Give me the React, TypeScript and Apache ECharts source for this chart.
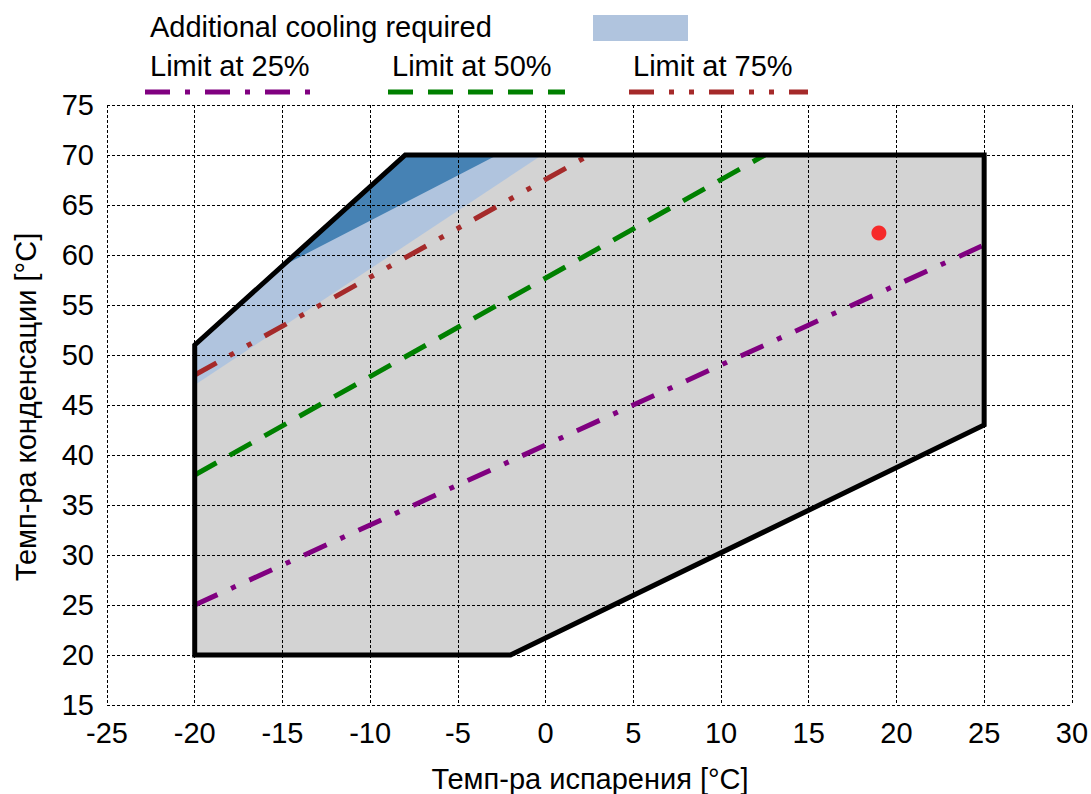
import React, { useEffect, useRef } from "react";
import * as echarts from "echarts";

// Axes
const xTicks = { min: -25, max: 30, interval: 5 };
const yTicks = { min: 15, max: 75, interval: 5 };

// Operating envelope (evap temp, cond temp)
const envelopeX = [-20, -2, 25, 25, -8, -20];
const envelopeY = [20, 20, 43, 70, 70, 51];

// Additional cooling required (light region)
const coolingX = [-20, -20, -8, -0.2];
const coolingY = [47, 51, 70, 70];

// Additional cooling (dark region)
const coolingDarkX = [-15, -8, -2.75];
const coolingDarkY = [58.9, 70, 70];

// Limit lines
const limit25X = [-20, 25];
const limit25Y = [25, 61];
const limit50X = [-20, 12.5];
const limit50Y = [38, 70];
const limit75X = [-20, 2.5];
const limit75Y = [48, 70];

// Operating point
const pointX = [19];
const pointY = [62.2];

const legendLabels = ["Additional cooling required", "Limit at 25%", "Limit at 50%", "Limit at 75%"];
const xTitle = "Темп-ра испарения [°C]";
const yTitle = "Темп-ра конденсации [°C]";

const FONT = '"Liberation Sans", Arial, sans-serif';
const FS = 29;
const DASH25 = [25, 15, 5, 15];
const DASH50 = [25, 15];
const DASH75 = [25, 15, 5, 15, 5, 15];

function zip(xs: number[], ys: number[]) {
  return xs.map((x, i) => [x, ys[i]]);
}

function polygonSeries(xs: number[], ys: number[], style: any, z: number) {
  return {
    type: "custom",
    z,
    silent: true,
    data: [[xs[0], ys[0]]],
    renderItem: (params: any, api: any) => {
      const pts = xs.map((x, i) => api.coord([x, ys[i]]));
      return { type: "polygon", shape: { points: pts }, style };
    },
  };
}

function lineSeries(xs: number[], ys: number[], color: string, dash: number[]) {
  return {
    type: "line",
    z: 4,
    silent: true,
    symbol: "none",
    data: zip(xs, ys),
    lineStyle: { color, width: 5, type: dash, cap: "butt" },
  };
}

export default function App() {
  const ref = useRef<HTMLDivElement>(null);
  useEffect(() => {
    const chart = echarts.init(ref.current!, null, { renderer: "svg" });
    const gridLine = { show: true, lineStyle: { color: "#000", width: 1, type: [3, 2] } };
    const textStyle = (text: string, extra: any = {}) => ({ text, fontSize: FS, fontFamily: FONT, fill: "#000", verticalAlign: "middle", ...extra });
    chart.setOption({
      animation: false,
      backgroundColor: "#fff",
      grid: { left: 107, right: 16, top: 105, bottom: 89, containLabel: false },
      xAxis: {
        type: "value",
        z: 3,
        min: xTicks.min,
        max: xTicks.max,
        interval: xTicks.interval,
        axisLine: { show: false },
        axisTick: { show: false },
        splitLine: gridLine,
        axisLabel: { color: "#000", fontSize: FS, fontFamily: FONT, margin: 13 },
      },
      yAxis: {
        type: "value",
        z: 3,
        min: yTicks.min,
        max: yTicks.max,
        interval: yTicks.interval,
        axisLine: { show: false },
        axisTick: { show: false },
        splitLine: gridLine,
        axisLabel: { color: "#000", fontSize: FS, fontFamily: FONT, margin: 13 },
      },
      series: [
        polygonSeries(envelopeX, envelopeY, { fill: "#d3d3d3" }, 1),
        polygonSeries(coolingX, coolingY, { fill: "#b0c4de" }, 1),
        polygonSeries(coolingDarkX, coolingDarkY, { fill: "#4682b4" }, 1),
        lineSeries(limit25X, limit25Y, "#800080", DASH25),
        lineSeries(limit50X, limit50Y, "#008000", DASH50),
        lineSeries(limit75X, limit75Y, "#a52a2a", DASH75),
        polygonSeries(envelopeX, envelopeY, { fill: "none", stroke: "#000", lineWidth: 5, lineJoin: "miter" }, 5),
        {
          type: "scatter",
          z: 6,
          silent: true,
          symbol: "circle",
          symbolSize: 15,
          itemStyle: { color: "#ff0000" },
          data: zip(pointX, pointY),
        },
      ],
      graphic: [
        { type: "text", x: 150, y: 27, style: textStyle(legendLabels[0]) },
        { type: "rect", shape: { x: 593, y: 15, width: 95, height: 26 }, style: { fill: "#b0c4de" } },
        { type: "text", x: 150, y: 66, style: textStyle(legendLabels[1]) },
        { type: "text", x: 392, y: 66, style: textStyle(legendLabels[2]) },
        { type: "text", x: 633, y: 66, style: textStyle(legendLabels[3]) },
        { type: "line", shape: { x1: 145, y1: 92, x2: 313, y2: 92 }, style: { stroke: "#800080", lineWidth: 5, lineDash: DASH25 } },
        { type: "line", shape: { x1: 388, y1: 92, x2: 565, y2: 92 }, style: { stroke: "#008000", lineWidth: 5, lineDash: DASH50 } },
        { type: "line", shape: { x1: 629, y1: 92, x2: 808, y2: 92 }, style: { stroke: "#a52a2a", lineWidth: 5, lineDash: DASH75 } },
        { type: "text", x: 590, y: 779, style: textStyle(xTitle, { align: "center" }) },
        { type: "text", x: 26, y: 407, rotation: Math.PI / 2, style: textStyle(yTitle, { align: "center" }) },
      ],
    });
    return () => chart.dispose();
  }, []);
  return <div ref={ref} style={{ position: "absolute", left: 0, top: 0, width: 1091, height: 794 }} />;
}
